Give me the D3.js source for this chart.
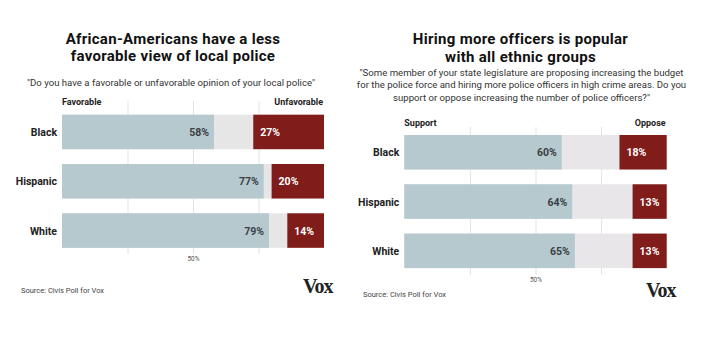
<!DOCTYPE html>
<html>
<head>
<meta charset="utf-8">
<script src="https://cdn.jsdelivr.net/npm/d3@7"></script>
<style>
  body { margin: 0; background: #fff; }
  svg { display: block; font-family: Roboto, "Liberation Sans", sans-serif; }
</style>
</head>
<body>
<svg width="710" height="346"></svg>
<script>
// Groups shared by both panels
var groups = ["Black", "Hispanic", "White"];

// Panel 1: favorable / unfavorable view of local police
var favorable = [58, 77, 79];
var unfavorable = [27, 20, 14];

// Panel 2: support / oppose hiring more officers
var support = [60, 64, 65];
var oppose = [18, 13, 13];

var gridTicks = [25, 50, 75];

var colors = {
    pos: "#b5c9cf",
    neg: "#801c19",
    midLeft: "#e6e6e6",
    midRight: "#e9e6ea",
    grid: "#e2e2e2"
};

var svg = d3.select("svg");

var panels = [
    {
        title: ["African-Americans have a less", "favorable view of local police"],
        titleX: 173, titleY: 43.6,
        question: ['"Do you have a favorable or unfavorable opinion of your local police"'],
        questionY: 86,
        posLabel: "Favorable", negLabel: "Unfavorable", headY: 105,
        pos: favorable, neg: unfavorable, mid: colors.midLeft,
        x0: 62, x1: 324, barTop: 114.7, gridTop: 101, axisY: 254,
        sourceX: 21, sourceY: 293, logoX: 303, logoY: 292.5
    },
    {
        title: ["Hiring more officers is popular", "with all ethnic groups"],
        titleX: 520.5, titleY: 44.4,
        question: ['"Some member of your state legislature are proposing increasing the budget',
                   'for the police force and hiring more police officers in high crime areas. Do you',
                   'support or oppose increasing the number of police officers?"'],
        questionY: 75.5,
        posLabel: "Support", negLabel: "Oppose", headY: 126,
        pos: support, neg: oppose, mid: colors.midRight,
        x0: 404.3, x1: 666.7, barTop: 135, gridTop: 127, axisY: 275,
        sourceX: 363, sourceY: 297, logoX: 646, logoY: 297
    }
];

panels.forEach(drawPanel);

function drawPanel(p) {
    var g = svg.append("g");

    var x = d3.scaleLinear()
        .domain([0, 100])
        .range([p.x0, p.x1]);

    var y = d3.scaleBand()
        .domain(groups)
        .range([p.barTop, p.barTop + 133.1])
        .paddingInner(0.3)
        .paddingOuter(0);

    // Title, one text per line
    g.selectAll(".title")
        .data(p.title)
        .join("text")
        .attr("class", "title")
        .attr("x", p.titleX)
        .attr("y", function(d, i) { return p.titleY + i * 17.7; })
        .attr("text-anchor", "middle")
        .attr("font-size", "15px")
        .attr("font-weight", "bold")
        .attr("letter-spacing", "0.3")
        .attr("fill", "#111")
        .text(function(d) { return d; });

    // Question text
    g.append("text")
        .attr("y", p.questionY)
        .attr("text-anchor", "middle")
        .attr("font-size", "9.6px")
        .attr("fill", "#333")
        .selectAll("tspan")
        .data(p.question)
        .join("tspan")
        .attr("x", (p.x0 + p.x1) / 2 - (p.question.length > 1 ? 14 : 22))
        .attr("dy", function(d, i) { return i ? 12.7 : 0; })
        .text(function(d) { return d; });

    // Column headings
    g.append("text")
        .attr("x", p.x0)
        .attr("y", p.headY)
        .attr("font-size", "9px")
        .attr("font-weight", "bold")
        .attr("fill", "#222")
        .text(p.posLabel);

    g.append("text")
        .attr("x", p.x1 - 1)
        .attr("y", p.headY)
        .attr("text-anchor", "end")
        .attr("font-size", "9px")
        .attr("font-weight", "bold")
        .attr("fill", "#222")
        .text(p.negLabel);

    // Gridlines with a single labelled tick at 50%
    var axis = d3.axisBottom(x)
        .tickValues(gridTicks)
        .tickSize(-(p.axisY - p.gridTop))
        .tickPadding(2)
        .tickFormat(function(d) { return d === 50 ? d + "%" : ""; });

    var ax = g.append("g")
        .attr("transform", "translate(0," + p.axisY + ")")
        .call(axis);
    ax.select(".domain").remove();
    ax.selectAll(".tick line").attr("stroke", colors.grid);
    ax.selectAll(".tick text")
        .attr("font-size", "6.5px")
        .attr("fill", "#555")
        .attr("font-family", "Roboto, sans-serif");

    var rows = groups.map(function(name, i) {
        return { name: name, pos: p.pos[i], neg: p.neg[i] };
    });

    var row = g.selectAll(".row")
        .data(rows)
        .join("g")
        .attr("class", "row")
        .attr("transform", function(d) { return "translate(0," + y(d.name) + ")"; });

    // Neutral background (the remainder between both answers)
    row.append("rect")
        .attr("x", x(0))
        .attr("width", x(100) - x(0))
        .attr("height", y.bandwidth())
        .attr("fill", p.mid);

    row.append("rect")
        .attr("x", x(0))
        .attr("width", function(d) { return x(d.pos) - x(0); })
        .attr("height", y.bandwidth())
        .attr("fill", colors.pos);

    row.append("rect")
        .attr("x", function(d) { return x(100 - d.neg); })
        .attr("width", function(d) { return x(100) - x(100 - d.neg); })
        .attr("height", y.bandwidth())
        .attr("fill", colors.neg);

    // Group names
    row.append("text")
        .attr("x", x(0) - 5)
        .attr("y", y.bandwidth() / 2 + 4)
        .attr("text-anchor", "end")
        .attr("font-size", "10.5px")
        .attr("font-weight", "bold")
        .attr("fill", "#222")
        .text(function(d) { return d.name; });

    // Value labels
    row.append("text")
        .attr("x", function(d) { return x(d.pos) - 5; })
        .attr("y", y.bandwidth() / 2 + 4)
        .attr("text-anchor", "end")
        .attr("font-size", "10.5px")
        .attr("font-weight", "bold")
        .attr("fill", "#3a3f44")
        .text(function(d) { return d.pos + "%"; });

    row.append("text")
        .attr("x", function(d) { return x(100 - d.neg) + 7; })
        .attr("y", y.bandwidth() / 2 + 4)
        .attr("font-size", "10.5px")
        .attr("font-weight", "bold")
        .attr("fill", "#fff")
        .text(function(d) { return d.neg + "%"; });

    // Footer
    g.append("text")
        .attr("x", p.sourceX)
        .attr("y", p.sourceY)
        .attr("font-size", "7.5px")
        .attr("fill", "#444")
        .text("Source: Civis Poll for Vox");

    g.append("text")
        .attr("x", p.logoX)
        .attr("y", p.logoY)
        .attr("font-family", "'Liberation Serif', 'DejaVu Serif', serif")
        .attr("font-size", "20px")
        .attr("font-weight", "900")
        .attr("letter-spacing", "-1")
        .attr("fill", "#222")
        .text("Vox");
}
</script>
</body>
</html>
